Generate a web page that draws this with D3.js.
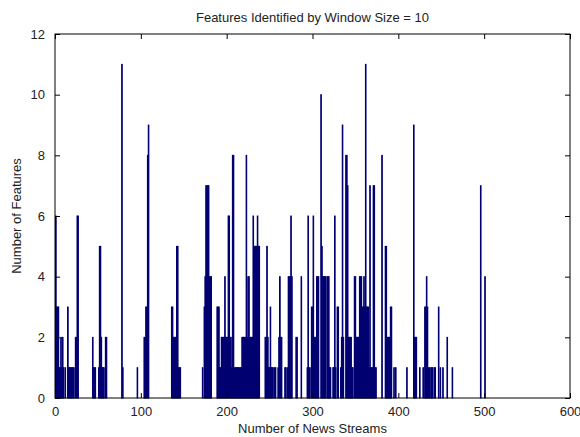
<!DOCTYPE html>
<html>
<head>
<meta charset="utf-8">
<script src="https://cdn.jsdelivr.net/npm/d3@7"></script>
<style>
  html, body { margin: 0; padding: 0; background: #ffffff; }
  svg { display: block; }
  text { font-family: "Liberation Sans", Arial, sans-serif; fill: #222; }
</style>
</head>
<body>
<svg id="chart" width="580" height="437"></svg>
<script>
// ---- Data ----
const chartTitle = "Features Identified by Window Size = 10";
const xLabel = "Number of News Streams";
const yLabel = "Number of Features";
const xTicks = [0, 100, 200, 300, 400, 500, 600];
const yTicks = [0, 2, 4, 6, 8, 10, 12];

// stream index (x) and number of features (y) for every non-zero bar
const streams = [
  1, 2, 3, 4, 5, 6, 7, 8, 9, 10, 12, 15, 16, 17, 18, 19, 20, 21, 22, 24, 25, 26, 27,
  44, 45, 46, 47, 51, 52, 53, 54, 55, 56, 57, 59, 60,
  78, 79, 96,
  104, 105, 106, 107, 108, 109,
  136, 137, 138, 139, 140, 141, 142, 143, 144, 145, 146,
  172, 174, 175, 176, 177, 178, 179, 180, 181, 182,
  189, 190, 191, 192, 193, 194, 195, 196, 197, 198, 199, 200, 201, 202, 203, 204, 205, 206, 207, 208, 209,
  210, 211, 212, 213, 214, 215, 216, 217, 218, 219, 220, 221, 222, 223, 224, 225, 226, 227, 228, 229, 230,
  231, 232, 233, 234, 235, 236, 237, 238,
  245, 246, 247, 248, 249, 250, 251, 252, 253, 254, 256, 257,
  260, 261, 262, 263, 264, 268, 269, 271, 272, 273, 274, 275, 276, 281, 282,
  287, 294, 295, 296, 297, 299, 300, 301, 302, 303, 304, 305, 306, 307, 310, 311, 312, 313, 314, 315,
  317, 318, 319, 320, 321, 324, 325, 326, 327, 329, 330, 333, 334, 335, 336, 339, 340, 341, 342, 343, 344, 345,
  346, 347, 349, 350, 351, 352, 353, 354, 355, 356, 357, 358, 359, 360, 361, 362, 363, 364, 365,
  366, 367, 368, 369, 370, 371, 372, 373, 374, 381, 385, 386, 387, 388, 389, 390, 391, 392, 395, 397,
  410, 418, 419, 420, 421, 425, 429, 431, 432, 433, 434, 435, 436, 438, 439, 440, 442, 443, 447, 449, 452, 457, 463,
  496, 501
];
const features = [
  6, 3, 3, 3, 1, 1, 2, 1, 2, 1, 1, 3, 1, 1, 1, 1, 1, 1, 1, 2, 2, 6, 6,
  2, 1, 1, 1, 1, 5, 5, 2, 1, 1, 1, 2, 2,
  11, 1, 1,
  2, 2, 3, 3, 8, 9,
  3, 3, 2, 2, 2, 2, 5, 5, 1, 1, 1,
  1, 3, 4, 7, 7, 7, 7, 4, 4, 4,
  3, 3, 3, 1, 1, 2, 2, 2, 2, 4, 2, 2, 2, 6, 6, 2, 2, 1, 8, 8, 1,
  1, 1, 1, 1, 1, 1, 1, 1, 2, 2, 2, 2, 2, 8, 2, 4, 4, 2, 2, 2, 2,
  6, 5, 5, 5, 5, 6, 5, 5,
  2, 2, 5, 2, 1, 1, 3, 1, 1, 1, 1, 1,
  1, 2, 4, 2, 2, 1, 1, 1, 4, 4, 4, 6, 4, 2, 2,
  4, 1, 6, 1, 1, 3, 3, 6, 2, 2, 2, 4, 4, 4, 10, 5, 4, 4, 4, 4,
  4, 4, 4, 1, 1, 1, 1, 6, 1, 3, 3, 1, 2, 9, 2, 8, 8, 7, 2, 2, 2, 2,
  1, 1, 4, 4, 2, 2, 2, 2, 4, 4, 4, 3, 3, 4, 3, 11, 3, 3, 3,
  1, 7, 1, 1, 1, 7, 7, 1, 1, 8, 5, 5, 2, 2, 2, 2, 3, 3, 1, 1,
  1, 9, 2, 2, 2, 1, 1, 3, 3, 4, 3, 1, 1, 1, 1, 1, 1, 1, 3, 1, 1, 2, 1,
  7, 4
];

// ---- Layout ----
const W = 580, H = 437;
const margin = { left: 55, right: 10, top: 34, bottom: 39 };
const svg = d3.select("#chart");
svg.append("rect").attr("width", W).attr("height", H).attr("fill", "#ffffff");

const x = d3.scaleLinear().domain([0, 600]).range([margin.left, W - margin.right]);
const y = d3.scaleLinear().domain([0, 12]).range([H - margin.bottom, margin.top]);

const bars = streams.map((s, i) => ({ s, v: features[i] }));

// bars (MATLAB-style width 0.8)
svg.append("g").selectAll("rect").data(bars).join("rect")
  .attr("x", d => x(d.s - 0.4))
  .attr("width", x(0.8) - x(0))
  .attr("y", d => y(d.v))
  .attr("height", d => y(0) - y(d.v))
  .attr("fill", "#00008c")
  .attr("stroke", "#000070")
  .attr("stroke-width", 0.9);

// axes with inward ticks
const tickLen = 5;
const fs = 13;
const axBottom = d3.axisBottom(x).tickValues(xTicks).tickSize(-tickLen).tickPadding(tickLen + 4);
const axTop = d3.axisTop(x).tickValues(xTicks).tickSize(-tickLen).tickFormat("");
const axLeft = d3.axisLeft(y).tickValues(yTicks).tickSize(-tickLen).tickPadding(tickLen + 5);
const axRight = d3.axisRight(y).tickValues(yTicks).tickSize(-tickLen).tickFormat("");

function style(g) {
  g.select(".domain").remove();
  g.selectAll(".tick line").attr("stroke", "#000").attr("stroke-width", 1);
  g.selectAll(".tick text").attr("font-size", fs).attr("fill", "#222")
    .attr("font-family", "'Liberation Sans', Arial, sans-serif");
}
svg.append("g").attr("transform", `translate(0,${y(0)})`).call(axBottom).call(style);
svg.append("g").attr("transform", `translate(0,${y(12)})`).call(axTop).call(style);
svg.append("g").attr("transform", `translate(${x(0)},0)`).call(axLeft).call(style);
svg.append("g").attr("transform", `translate(${x(600)},0)`).call(axRight).call(style);

// box
svg.append("rect")
  .attr("x", x(0)).attr("y", y(12))
  .attr("width", x(600) - x(0)).attr("height", y(0) - y(12))
  .attr("fill", "none").attr("stroke", "#000").attr("stroke-width", 1);

// titles
svg.append("text").attr("x", (x(0) + x(600)) / 2).attr("y", 22)
  .attr("text-anchor", "middle").attr("font-size", fs).text(chartTitle);
svg.append("text").attr("x", (x(0) + x(600)) / 2).attr("y", 433)
  .attr("text-anchor", "middle").attr("font-size", fs).text(xLabel);
svg.append("text")
  .attr("transform", `translate(21,${(y(0) + y(12)) / 2}) rotate(-90)`)
  .attr("text-anchor", "middle").attr("font-size", fs).text(yLabel);
</script>
</body>
</html>
